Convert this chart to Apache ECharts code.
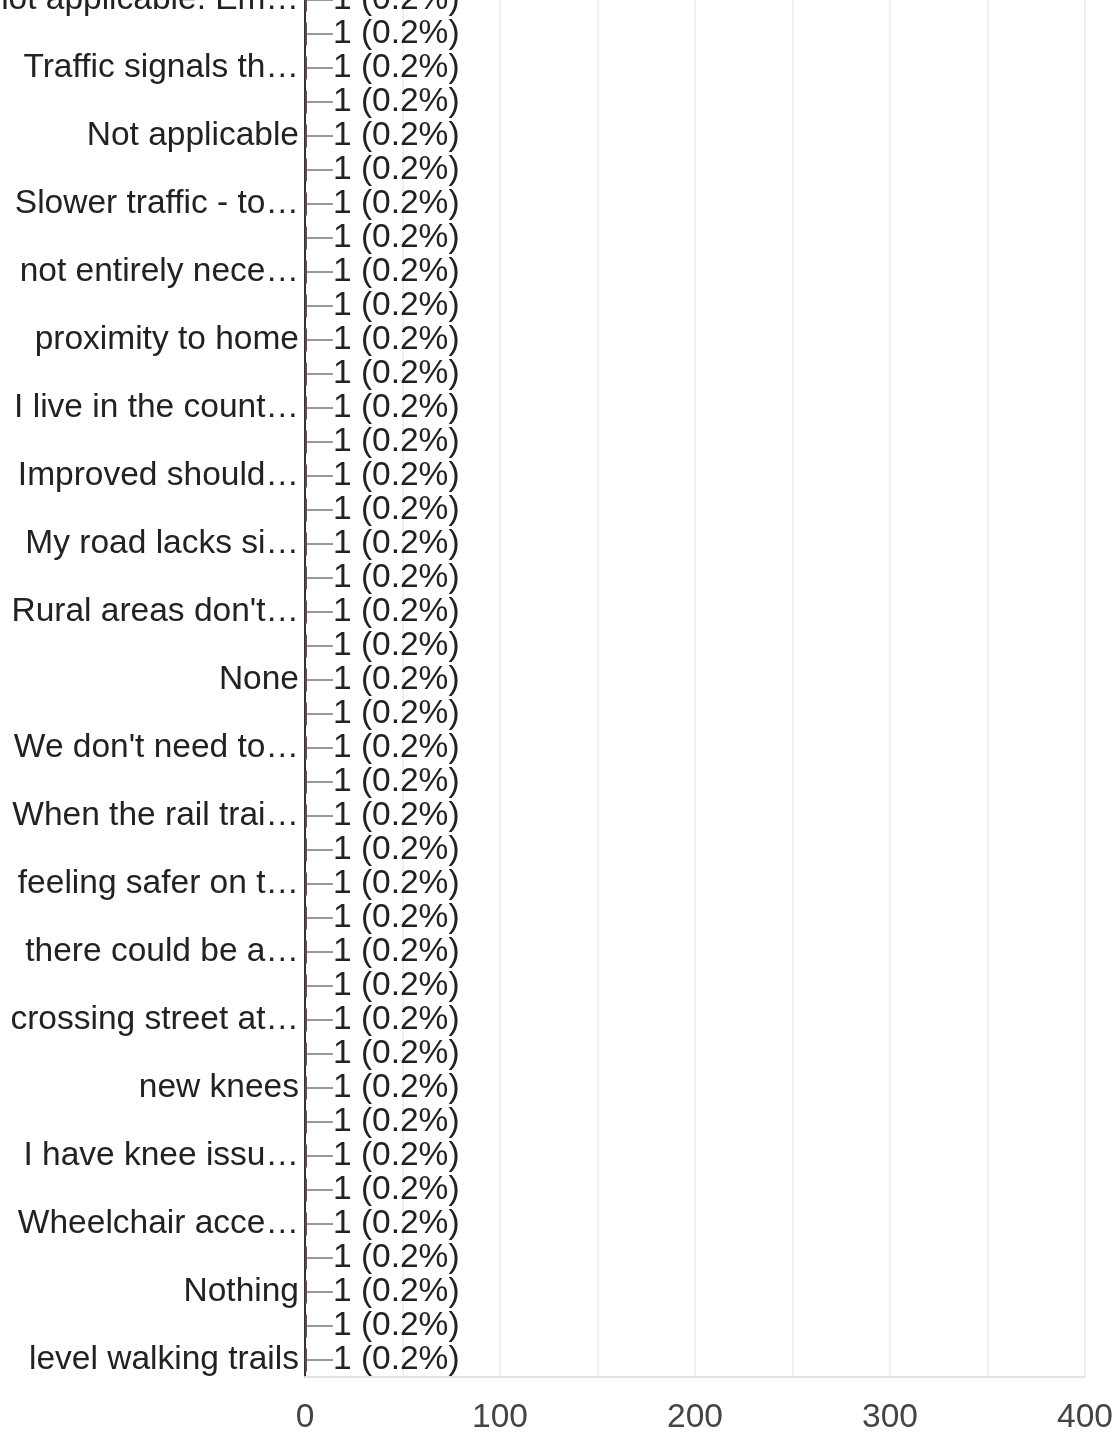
<!DOCTYPE html>
<html>
<head>
<meta charset="utf-8">
<script src="https://cdn.jsdelivr.net/npm/echarts@6/dist/echarts.min.js"></script>
<style>
html,body{margin:0;padding:0;background:#fff;}
#chart{width:1118px;height:1433px;}
</style>
</head>
<body>
<div id="chart"></div>
<script>
// Categories top to bottom; unlabeled (hidden) categories are empty strings
const categories = [
  "not applicable. Em…", "",
  "Traffic signals th…", "",
  "Not applicable", "",
  "Slower traffic - to…", "",
  "not entirely nece…", "",
  "proximity to home", "",
  "I live in the count…", "",
  "Improved should…", "",
  "My road lacks si…", "",
  "Rural areas don't…", "",
  "None", "",
  "We don't need to…", "",
  "When the rail trai…", "",
  "feeling safer on t…", "",
  "there could be a…", "",
  "crossing street at…", "",
  "new knees", "",
  "I have knee issu…", "",
  "Wheelchair acce…", "",
  "Nothing", "",
  "level walking trails"
];
const counts = [1,1,1,1,1,1,1,1,1,1,1,1,1,1,1,1,1,1,1,1,1,1,1,1,1,1,1,1,1,1,1,1,1,1,1,1,1,1,1,1,1];
const percents = [0.2,0.2,0.2,0.2,0.2,0.2,0.2,0.2,0.2,0.2,0.2,0.2,0.2,0.2,0.2,0.2,0.2,0.2,0.2,0.2,0.2,0.2,0.2,0.2,0.2,0.2,0.2,0.2,0.2,0.2,0.2,0.2,0.2,0.2,0.2,0.2,0.2,0.2,0.2,0.2,0.2];
const xTicks = [0, 100, 200, 300, 400];

const FONT = "'Liberation Sans', Arial, sans-serif";
const FS = 33.5;
const chart = echarts.init(document.getElementById('chart'), null, {renderer: 'canvas'});
chart.setOption({
  animation: false,
  backgroundColor: '#ffffff',
  grid: {left: 305, right: 33, top: -17, bottom: 56, containLabel: false, outerBoundsMode: 'none'},
  xAxis: {
    type: 'value',
    min: xTicks[0],
    max: xTicks[xTicks.length - 1],
    interval: 100,
    axisLine: {show: true, onZero: false, lineStyle: {color: '#e3e3e3', width: 2}},
    axisTick: {show: false},
    axisLabel: {fontSize: FS, color: '#444', fontFamily: FONT, margin: 24},
    splitLine: {show: true, lineStyle: {color: '#ebebeb', width: 1.5}},
    minorTick: {show: false, splitNumber: 2},
    minorSplitLine: {show: true, lineStyle: {color: '#ebebeb', width: 1.5}}
  },
  yAxis: {
    type: 'category',
    data: categories,
    inverse: true,
    axisLine: {show: true, lineStyle: {color: '#333', width: 2}},
    axisTick: {show: false},
    axisLabel: {interval: 1, fontSize: FS, color: '#222', fontFamily: FONT, margin: 6}
  },
  series: [{
    type: 'bar',
    data: counts,
    barCategoryGap: '32%',
    itemStyle: {color: '#5e454b'},
    label: {
      show: true,
      position: 'right',
      distance: 2,
      padding: [0, 0, 0, 3],
      fontSize: FS,
      color: '#222',
      fontFamily: FONT,
      formatter: p => p.value + ' (' + percents[p.dataIndex] + '%)'
    },
    labelLayout: {dx: 21},
    labelLine: {show: true, lineStyle: {color: '#999', width: 2}}
  }]
});
</script>
</body>
</html>
